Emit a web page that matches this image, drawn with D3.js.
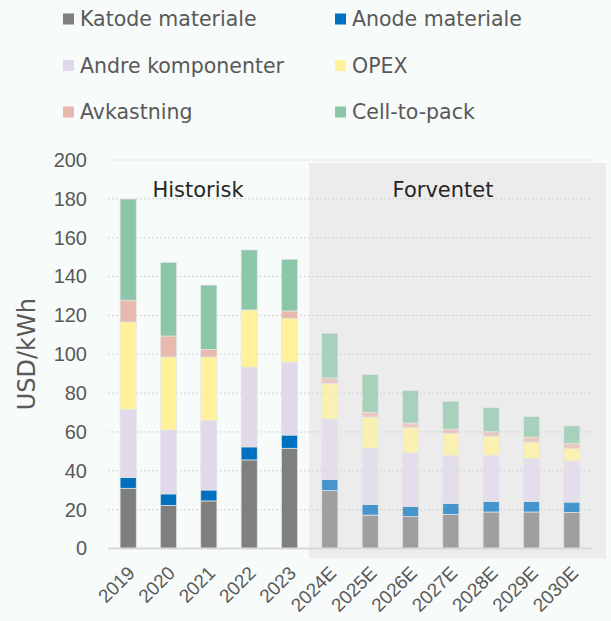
<!DOCTYPE html>
<html>
<head>
<meta charset="utf-8">
<script src="https://cdn.jsdelivr.net/npm/d3@7"></script>
<style>
  body { margin: 0; background: #f7fbfa; }
  svg { display: block; font-family: "DejaVu Sans", sans-serif; }
</style>
</head>
<body>
<div id="chart"></div>
<script>
var years = ["2019", "2020", "2021", "2022", "2023", "2024E", "2025E", "2026E", "2027E", "2028E", "2029E", "2030E"];
var forecastFrom = "2024E";

var seriesNames = ["Katode materiale", "Anode materiale", "Andre komponenter", "OPEX", "Avkastning", "Cell-to-pack"];
var colors = ["#7f7f7f", "#0070c0", "#e0d9ea", "#fff29a", "#e8b9ad", "#8cc6a8"];

var katode   = [31.0, 22.2, 24.5, 45.6, 51.6, 29.8, 17.2, 16.4, 17.6, 18.8, 18.8, 18.6];
var anode    = [5.6, 5.9, 5.6, 6.7, 6.8, 5.8, 5.5, 5.3, 5.5, 5.5, 5.5, 5.3];
var andre    = [35.0, 32.9, 35.9, 41.1, 37.6, 31.1, 28.9, 27.5, 24.7, 23.7, 22.1, 21.1];
var opex     = [45.0, 37.6, 32.6, 29.4, 22.5, 18.2, 16.1, 13.0, 11.5, 9.8, 8.4, 6.4];
var avkast   = [11.2, 10.8, 3.9, 0, 3.8, 2.9, 2.4, 2.4, 2.2, 2.3, 2.6, 2.7];
var cellpack = [52.1, 37.9, 33.1, 30.9, 26.6, 23.0, 19.4, 16.8, 14.3, 12.4, 10.5, 9.0];

var yTicks = [0, 20, 40, 60, 80, 100, 120, 140, 160, 180, 200];

var width = 611, height = 621;
var margin = {top: 160, right: 19, bottom: 72, left: 108};

var rows = years.map(function(y, i) {
    return {year: y, k: katode[i], a: anode[i], o: andre[i], p: opex[i], v: avkast[i], c: cellpack[i]};
});
var keys = ["k", "a", "o", "p", "v", "c"];
var stacked = d3.stack().keys(keys)(rows);

var svg = d3.select("#chart").append("svg")
    .attr("width", width)
    .attr("height", height);

var x = d3.scaleBand()
    .domain(years)
    .range([margin.left, width - margin.right - 0])
    .paddingInner(0.6)
    .paddingOuter(0.3);

var y = d3.scaleLinear()
    .domain([0, 200])
    .range([height - margin.bottom - 0.5, margin.top]);

// forecast shading
var fx = x(forecastFrom) - x.step() * x.paddingInner() / 2 - 0.5;
svg.append("rect")
    .attr("x", fx)
    .attr("y", y(200) + 3)
    .attr("width", 606 - fx)
    .attr("height", y(0) + 10 - y(200) - 3)
    .attr("fill", "#ebeceb");

// grid
svg.append("g")
    .selectAll("line").data(yTicks.slice(1))
    .enter().append("line")
    .attr("x1", margin.left)
    .attr("x2", width - margin.right - 2)
    .attr("y1", function(d) { return y(d); })
    .attr("y2", function(d) { return y(d); })
    .attr("stroke", "#cfd3d2")
    .attr("stroke-width", 1)
    .attr("stroke-dasharray", "2,2");

// bars
svg.append("g")
    .selectAll("g").data(stacked)
    .enter().append("g")
    .attr("fill", function(d, i) { return colors[i]; })
    .selectAll("rect").data(function(d) { return d; })
    .enter().append("rect")
    .attr("x", function(d) { return x(d.data.year); })
    .attr("width", x.bandwidth())
    .attr("y", function(d) { return y(d[1]); })
    .attr("height", function(d) { return y(d[0]) - y(d[1]); })
    .attr("fill-opacity", function(d) { return years.indexOf(d.data.year) >= years.indexOf(forecastFrom) ? 0.7 : 1; })
    .attr("stroke", "#e4e6e5")
    .attr("stroke-width", 0.7);

// baseline
svg.append("line")
    .attr("x1", margin.left)
    .attr("x2", width - margin.right)
    .attr("y1", y(0))
    .attr("y2", y(0))
    .attr("stroke", "#d9d9d9")
    .attr("stroke-width", 2);

// y axis
var yAxis = svg.append("g")
    .attr("transform", "translate(87,0)")
    .call(d3.axisLeft(y).tickValues(yTicks).tickSize(0).tickPadding(0));
yAxis.select(".domain").remove();
yAxis.selectAll("text")
    .attr("fill", "#595959")
    .style("font-size", "20px");

svg.append("text")
    .attr("transform", "translate(35," + y(100) + ") rotate(-90)")
    .attr("text-anchor", "middle")
    .attr("fill", "#595959")
    .style("font-size", "24px")
    .text("USD/kWh");

// x axis
var xAxis = svg.append("g")
    .attr("transform", "translate(0," + y(0) + ")")
    .call(d3.axisBottom(x).tickSize(0).tickPadding(0));
xAxis.select(".domain").remove();
xAxis.selectAll("text")
    .attr("fill", "#595959")
    .style("font-size", "19px")
    .attr("text-anchor", "end")
    .attr("dy", "0.35em")
    .attr("transform", "translate(3,21) rotate(-45)");

// section labels
svg.append("text")
    .attr("x", 198)
    .attr("y", 196.5)
    .attr("text-anchor", "middle")
    .attr("fill", "#262626")
    .style("font-size", "21px")
    .text("Historisk");

svg.append("text")
    .attr("x", 443)
    .attr("y", 196.5)
    .attr("text-anchor", "middle")
    .attr("fill", "#262626")
    .style("font-size", "21px")
    .text("Forventet");

// legend
var legend = svg.append("g")
    .selectAll("g").data(seriesNames)
    .enter().append("g")
    .attr("transform", function(d, i) {
        return "translate(" + (i % 2 === 0 ? 63 : 335) + "," + (19 + Math.floor(i / 2) * 46.5) + ")";
    });
legend.append("rect")
    .attr("x", 0)
    .attr("y", -5.5)
    .attr("width", 11)
    .attr("height", 11)
    .attr("fill", function(d, i) { return colors[i]; });
legend.append("text")
    .attr("x", 17)
    .attr("dy", "0.35em")
    .attr("fill", "#595959")
    .style("font-size", "20.5px")
    .text(function(d) { return d; });
</script>
</body>
</html>
